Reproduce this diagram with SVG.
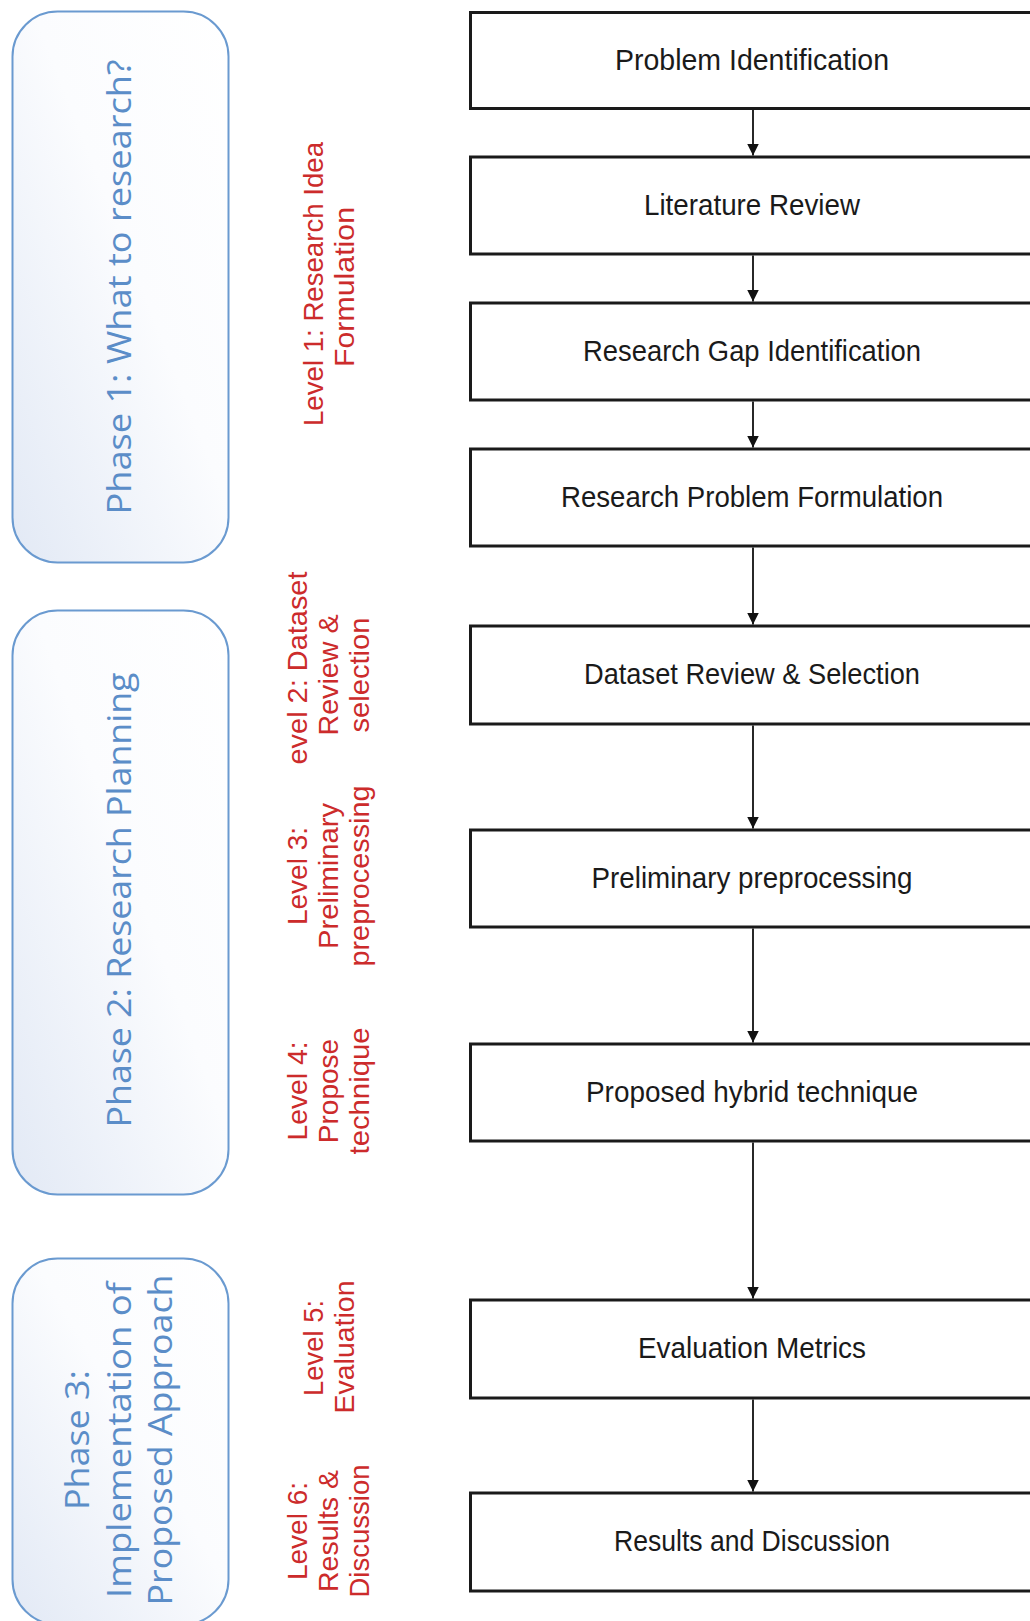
<svg xmlns="http://www.w3.org/2000/svg" width="1030" height="1621" viewBox="0 0 1030 1621">
  <defs>
    <linearGradient id="phaseFill" x1="0" y1="1" x2="1" y2="0">
      <stop offset="0" stop-color="#e2e9f5"/>
      <stop offset="0.55" stop-color="#fbfcfe"/>
      <stop offset="1" stop-color="#ffffff"/>
    </linearGradient>
    <marker id="arrow" viewBox="0 0 12 16" refX="12" refY="6" markerWidth="12" markerHeight="16" markerUnits="userSpaceOnUse" orient="auto">
      <path d="M0,0 L12,6 L0,12 z" fill="#111"/>
    </marker>
    <style>
      .phase { fill: url(#phaseFill); stroke: #6a9ad0; stroke-width: 2; }
      .phaseText { font-family: "Open Sans", "DejaVu Sans", sans-serif; font-size: 32px; fill: #5b8dc8; text-anchor: middle; }
      .level { font-family: "Liberation Sans", Arial, sans-serif; font-size: 28px; fill: #cc2b2b; text-anchor: middle; }
      .box { fill: #ffffff; stroke: #1a1a1a; stroke-width: 3; }
      .boxText { font-family: "Liberation Sans", Arial, sans-serif; font-size: 29px; fill: #1a1a1a; text-anchor: middle; }
      .conn { stroke: #111; stroke-width: 1.8; fill: none; marker-end: url(#arrow); }
    </style>
  </defs>
  <rect width="1030" height="1621" fill="#ffffff"/>

  <!-- Phase boxes -->
  <g id="phase1">
    <rect class="phase" x="12.5" y="11.5" width="216" height="551" rx="45" ry="45"/>
    <text class="phaseText" transform="translate(131,287) rotate(-90)" textLength="455" lengthAdjust="spacingAndGlyphs">Phase 1: What to research?</text>
  </g>
  <g id="phase2">
    <rect class="phase" x="12.5" y="610.5" width="216" height="584" rx="45" ry="45"/>
    <text class="phaseText" transform="translate(131,900) rotate(-90)" textLength="455" lengthAdjust="spacingAndGlyphs">Phase 2: Research Planning</text>
  </g>
  <g id="phase3">
    <rect class="phase" x="12.5" y="1258.5" width="216" height="366" rx="45" ry="45"/>
    <text class="phaseText" transform="translate(89,1440) rotate(-90)" textLength="140" lengthAdjust="spacingAndGlyphs">Phase 3:</text>
    <text class="phaseText" transform="translate(131,1440) rotate(-90)" textLength="316" lengthAdjust="spacingAndGlyphs">Implementation of</text>
    <text class="phaseText" transform="translate(172,1440) rotate(-90)" textLength="331" lengthAdjust="spacingAndGlyphs">Proposed Approach</text>
  </g>

  <!-- Level labels -->
  <g id="level1">
    <text class="level" transform="translate(323,284) rotate(-90)" textLength="284" lengthAdjust="spacingAndGlyphs">Level 1: Research Idea</text>
    <text class="level" transform="translate(354,287) rotate(-90)" textLength="160" lengthAdjust="spacingAndGlyphs">Formulation</text>
  </g>
  <g id="level2">
    <text class="level" transform="translate(307,668) rotate(-90)" textLength="193" lengthAdjust="spacingAndGlyphs">evel 2: Dataset</text>
    <text class="level" transform="translate(338,675) rotate(-90)" textLength="121" lengthAdjust="spacingAndGlyphs">Review &amp;</text>
    <text class="level" transform="translate(369,675) rotate(-90)" textLength="115" lengthAdjust="spacingAndGlyphs">selection</text>
  </g>
  <g id="level3">
    <text class="level" transform="translate(307,876) rotate(-90)" textLength="98" lengthAdjust="spacingAndGlyphs">Level 3:</text>
    <text class="level" transform="translate(338,876) rotate(-90)" textLength="146" lengthAdjust="spacingAndGlyphs">Preliminary</text>
    <text class="level" transform="translate(369,876) rotate(-90)" textLength="181" lengthAdjust="spacingAndGlyphs">preprocessing</text>
  </g>
  <g id="level4">
    <text class="level" transform="translate(307,1091) rotate(-90)" textLength="99" lengthAdjust="spacingAndGlyphs">Level 4:</text>
    <text class="level" transform="translate(338,1091) rotate(-90)">Propose</text>
    <text class="level" transform="translate(369,1091) rotate(-90)" textLength="127" lengthAdjust="spacingAndGlyphs">technique</text>
  </g>
  <g id="level5">
    <text class="level" transform="translate(323,1348) rotate(-90)" textLength="96" lengthAdjust="spacingAndGlyphs">Level 5:</text>
    <text class="level" transform="translate(354,1347) rotate(-90)" textLength="133" lengthAdjust="spacingAndGlyphs">Evaluation</text>
  </g>
  <g id="level6">
    <text class="level" transform="translate(307,1531) rotate(-90)" textLength="98" lengthAdjust="spacingAndGlyphs">Level 6:</text>
    <text class="level" transform="translate(338,1531) rotate(-90)" textLength="122" lengthAdjust="spacingAndGlyphs">Results &amp;</text>
    <text class="level" transform="translate(369,1531) rotate(-90)" textLength="133" lengthAdjust="spacingAndGlyphs">Discussion</text>
  </g>

  <!-- Process boxes -->
  <g id="box1">
    <rect class="box" x="470.5" y="12.5" width="600" height="96"/>
    <text class="boxText" x="752" y="70" textLength="274" lengthAdjust="spacingAndGlyphs">Problem Identification</text>
  </g>
  <g id="box2">
    <rect class="box" x="470.5" y="157" width="600" height="97"/>
    <text class="boxText" x="752" y="215" textLength="216" lengthAdjust="spacingAndGlyphs">Literature Review</text>
  </g>
  <g id="box3">
    <rect class="box" x="470.5" y="303" width="600" height="97"/>
    <text class="boxText" x="752" y="361" textLength="338" lengthAdjust="spacingAndGlyphs">Research Gap Identification</text>
  </g>
  <g id="box4">
    <rect class="box" x="470.5" y="449" width="600" height="97"/>
    <text class="boxText" x="752" y="507" textLength="382" lengthAdjust="spacingAndGlyphs">Research Problem Formulation</text>
  </g>
  <g id="box5">
    <rect class="box" x="470.5" y="626" width="600" height="98"/>
    <text class="boxText" x="752" y="684" textLength="336" lengthAdjust="spacingAndGlyphs">Dataset Review &amp; Selection</text>
  </g>
  <g id="box6">
    <rect class="box" x="470.5" y="830" width="600" height="97"/>
    <text class="boxText" x="752" y="888" textLength="321" lengthAdjust="spacingAndGlyphs">Preliminary preprocessing</text>
  </g>
  <g id="box7">
    <rect class="box" x="470.5" y="1044" width="600" height="97"/>
    <text class="boxText" x="752" y="1102" textLength="332" lengthAdjust="spacingAndGlyphs">Proposed hybrid technique</text>
  </g>
  <g id="box8">
    <rect class="box" x="470.5" y="1300" width="600" height="98"/>
    <text class="boxText" x="752" y="1358" textLength="228" lengthAdjust="spacingAndGlyphs">Evaluation Metrics</text>
  </g>
  <g id="box9">
    <rect class="box" x="470.5" y="1493" width="600" height="98"/>
    <text class="boxText" x="752" y="1551" textLength="276" lengthAdjust="spacingAndGlyphs">Results and Discussion</text>
  </g>

  <!-- Connectors -->
  <g id="connectors">
    <line class="conn" x1="753" y1="110" x2="753" y2="155.5"/>
    <line class="conn" x1="753" y1="255.5" x2="753" y2="301.5"/>
    <line class="conn" x1="753" y1="401.5" x2="753" y2="447.5"/>
    <line class="conn" x1="753" y1="547.5" x2="753" y2="624.5"/>
    <line class="conn" x1="753" y1="725.5" x2="753" y2="828.5"/>
    <line class="conn" x1="753" y1="928.5" x2="753" y2="1042.5"/>
    <line class="conn" x1="753" y1="1142.5" x2="753" y2="1298.5"/>
    <line class="conn" x1="753" y1="1399.5" x2="753" y2="1491.5"/>
  </g>
</svg>
